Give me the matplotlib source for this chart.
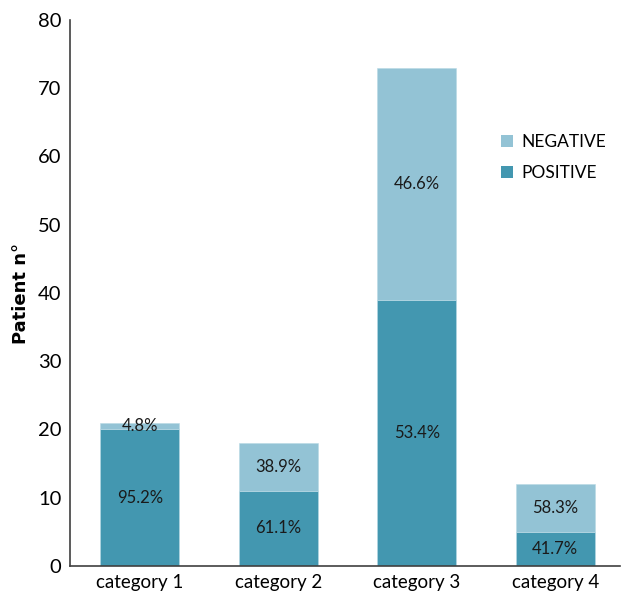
import matplotlib.pyplot as plt
import numpy as np

categories = ["category 1", "category 2", "category 3", "category 4"]
positive = [20, 11, 39, 5]
negative = [1, 7, 34, 7]

c_pos = "#4397B0"
c_neg = "#93C3D5"

fig = plt.figure(figsize=(6.24, 5.93), dpi=100)
ax = fig.add_axes([0.112, 0.0455, 0.882, 0.921])

x = np.arange(len(categories))
ax.bar(x, positive, width=0.57, color=c_pos, label="POSITIVE", edgecolor="#b9d9e4", linewidth=0.4)
ax.bar(x, negative, width=0.57, bottom=positive, color=c_neg, label="NEGATIVE",
       edgecolor="#b9d9e4", linewidth=0.4)

font = ["Lato", "DejaVu Sans"]
for i in range(len(categories)):
    total = positive[i] + negative[i]
    ax.text(x[i], positive[i] / 2, f"{positive[i] / total * 100:.1f}%", ha="center", va="center",
            fontsize=12, family=font, color="#1a1a1a")
    ax.text(x[i], positive[i] + negative[i] / 2, f"{negative[i] / total * 100:.1f}%", ha="center",
            va="center", fontsize=12, family=font, color="#1a1a1a")

ax.set_xlim(-0.505, 3.47)
ax.set_ylim(0, 80)
ax.set_yticks(range(0, 81, 10))
ax.set_xticks(x)
ax.set_xticklabels(categories, fontsize=13.5, family=font)
for lbl in ax.get_yticklabels():
    lbl.set_fontsize(14.5)
    lbl.set_family(font)
ax.tick_params(axis="both", length=0, pad=6)
ax.set_ylabel("Patient n°", fontsize=13, fontweight="bold", labelpad=6)

for s in ["top", "right"]:
    ax.spines[s].set_visible(False)
for s in ["left", "bottom"]:
    ax.spines[s].set_color("#404040")
    ax.spines[s].set_linewidth(1.2)

handles, labels = ax.get_legend_handles_labels()
leg = ax.legend(handles[::-1], labels[::-1], loc="upper left", bbox_to_anchor=(0.755, 0.82),
                frameon=False, prop={"family": font, "size": 12.5}, handlelength=0.7, handleheight=0.7,
                labelspacing=0.9, handletextpad=0.5)
for h in leg.legend_handles:
    h.set_edgecolor("none")

fig.savefig("out.png", dpi=100)
